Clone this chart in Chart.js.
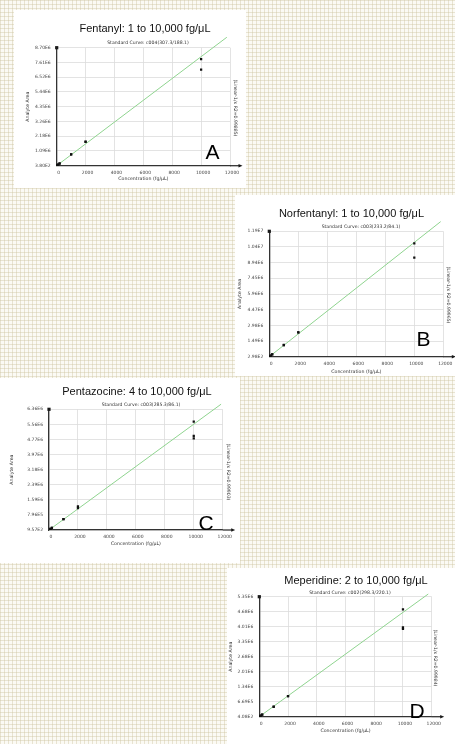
<!DOCTYPE html>
<html><head><meta charset="utf-8">
<script src="https://cdn.jsdelivr.net/npm/chart.js@4.4.1/dist/chart.umd.min.js"></script>
<style>
html,body{margin:0;padding:0;}
body{width:455px;height:744px;position:relative;overflow:hidden;
background-color:#fbfaf4;
background-image:linear-gradient(90deg, rgba(205,196,160,.42) 1px, transparent 1px),linear-gradient(rgba(205,196,160,.42) 1px, transparent 1px);
background-size:4px 4px;}
.panel{position:absolute;background:#fff;}
.panel canvas{position:absolute;left:0;top:0;}
.t{position:absolute;white-space:nowrap;transform:translate(-50%,-50%);color:#111;line-height:1;}
.title{font-family:"Liberation Sans",Arial,sans-serif;font-size:11px;}
.sub{font-family:"DejaVu Sans",sans-serif;font-size:4.6px;color:#333;}
.rt{font-family:"DejaVu Sans",sans-serif;font-size:4.6px;color:#333;transform:translate(-50%,-50%) rotate(90deg);}
.let{font-family:"Liberation Sans",Arial,sans-serif;font-size:21px;color:#000;}
</style></head>
<body>
<div class="panel" id="pA"><canvas id="cA"></canvas></div>
<div class="panel" id="pB"><canvas id="cB"></canvas></div>
<div class="panel" id="pC"><canvas id="cC"></canvas></div>
<div class="panel" id="pD"><canvas id="cD"></canvas></div>

<div class="t title" style="left:145px;top:28px">Fentanyl: 1 to 10,000 fg/μL</div>
<div class="t sub" style="left:148px;top:43px">Standard Curve: c004(307.3/188.1)</div>
<div class="t rt" style="left:235px;top:108px">(Linear-1/x R2=0.99885)</div>
<div class="t let" style="left:212.5px;top:151px">A</div>

<div class="t title" style="left:351.5px;top:213px">Norfentanyl: 1 to 10,000 fg/μL</div>
<div class="t sub" style="left:361px;top:226.7px">Standard Curve: c003(233.2/84.1)</div>
<div class="t rt" style="left:448px;top:295px">(Linear-1/x R2=0.99965)</div>
<div class="t let" style="left:423.5px;top:337.5px">B</div>

<div class="t title" style="left:137px;top:391px">Pentazocine: 4 to 10,000 fg/μL</div>
<div class="t sub" style="left:141px;top:405px">Standard Curve: c003(285.3/86.1)</div>
<div class="t rt" style="left:228px;top:472px">(Linear-1/x R2=0.99903)</div>
<div class="t let" style="left:206px;top:522px">C</div>

<div class="t title" style="left:356px;top:580px">Meperidine: 2 to 10,000 fg/μL</div>
<div class="t sub" style="left:350px;top:592.7px">Standard Curve: c002(298.3/220.1)</div>
<div class="t rt" style="left:435px;top:658px">(Linear-1/x R2=0.99984)</div>
<div class="t let" style="left:417px;top:709.5px">D</div>

<script>
// ---------- data ----------
const xTickLabels = ['0','2000','4000','6000','8000','10000','12000'];

const fentanylConc = [1,1,5,5,10,10,50,50,100,100,200,200,1000,1000,2000,2000,10000,10000];
const fentanylArea = [820,780,4100,3900,8200,7900,41000,39500,82000,79000,165000,160000,840000,835000,1770000,1760000,7860000,7090000];
const fentanylFitX = [0,11780];
const fentanylFitY = [0,9470000];
const fentanylYRange = [380,8700000];
const fentanylYTicks = ['3.80E2','1.09E6','2.18E6','3.26E6','4.35E6','5.44E6','6.52E6','7.61E6','8.70E6'];

const norfentanylConc = [1,1,5,5,10,10,50,50,100,100,200,200,1000,1000,2000,2000,10000,10000];
const norfentanylArea = [1100,1050,5400,5300,10800,10500,54000,53000,108000,106000,216000,212000,1110000,1100000,2310000,2300000,10760000,9400000];
const norfentanylFitX = [0,11820];
const norfentanylFitY = [0,12820000];
const norfentanylYRange = [298,11900000];
const norfentanylYTicks = ['2.98E2','1.49E6','2.98E6','4.47E6','5.96E6','7.45E6','8.94E6','1.04E7','1.19E7'];

const pentazocineConc = [4,4,10,10,50,50,100,100,200,200,1000,1000,2000,2000,10000,10000,10000];
const pentazocineArea = [2300,2200,5600,5500,28000,27500,56000,55000,112000,110000,580000,575000,1250000,1160000,5710000,4960000,4830000];
const pentazocineFitX = [0,11890];
const pentazocineFitY = [0,6630000];
const pentazocineYRange = [957,6360000];
const pentazocineYTicks = ['9.57E2','7.96E5','1.59E6','2.39E6','3.18E6','3.97E6','4.77E6','5.56E6','6.36E6'];

const meperidineConc = [2,2,10,10,50,50,100,100,200,200,1000,1000,2000,2000,10000,10000,10000];
const meperidineArea = [950,930,4700,4600,23500,23000,47000,46000,94000,92000,446000,440000,920000,915000,4780000,3980000,3920000];
const meperidineFitX = [0,11760];
const meperidineFitY = [0,5470000];
const meperidineYRange = [408,5350000];
const meperidineYTicks = ['4.08E2','6.69E5','1.34E6','2.01E6','2.68E6','3.35E6','4.01E6','4.68E6','5.35E6'];

// ---------- layout (absolute page coords) ----------
const layouts = {
  A:{P:{x:14,y:10,w:232,h:178}, area:{l:56.7,r:230,t:47.7,b:165.7}, yTitleX:28, xTitleY:179},
  B:{P:{x:235,y:195,w:220,h:181}, area:{l:269.3,r:443.3,t:231.3,b:356.7}, yTitleX:240, xTitleY:371.7},
  C:{P:{x:0,y:378,w:240,h:185}, area:{l:49,r:222.7,t:409.3,b:530}, yTitleX:11.7, xTitleY:544},
  D:{P:{x:227,y:568,w:228,h:176}, area:{l:259.3,r:431.7,t:596.7,b:716.7}, yTitleX:231, xTitleY:731}
};

const axisDecor = {
  id:'axisDecor',
  afterDraw(chart){
    const {ctx, chartArea:a} = chart;
    ctx.save();
    ctx.strokeStyle='#333'; ctx.fillStyle='#1a1a1a'; ctx.lineWidth=1.3;
    ctx.beginPath(); ctx.moveTo(a.right, a.bottom); ctx.lineTo(a.right+10, a.bottom); ctx.stroke();
    ctx.beginPath(); ctx.moveTo(a.right+12.5, a.bottom); ctx.lineTo(a.right+8.5, a.bottom-1.8); ctx.lineTo(a.right+8.5, a.bottom+1.8); ctx.closePath(); ctx.fill();
    ctx.fillRect(a.left-1.6, a.top-1.6, 3.2, 3.2);
    ctx.restore();
  }
};

const tickFont = {family:'"DejaVu Sans", sans-serif', size:4.5};
const titleFont = {family:'"DejaVu Sans", sans-serif', size:4.7};
const titleLH = 4.7*1.2;

function makeChart(key, conc, area, fitX, fitY, yRange, yLabels){
  const L = layouts[key], P = L.P, A = L.area;
  const panel = document.getElementById('p'+key);
  panel.style.left = P.x+'px'; panel.style.top = P.y+'px';
  panel.style.width = P.w+'px'; panel.style.height = P.h+'px';
  const cv = document.getElementById('c'+key);
  cv.width = P.w; cv.height = P.h;
  cv.style.width = P.w+'px'; cv.style.height = P.h+'px';
  const yW = A.l - P.x;
  const xH = P.y + P.h - A.b;
  const padTop = A.t - P.y;
  const padRight = P.x + P.w - A.r;
  const n = yLabels.length - 1;
  new Chart(cv, {
    type:'scatter',
    data:{datasets:[
      {data: fitX.map((x,i)=>({x:x, y:fitY[i]})), showLine:true, borderColor:'#8fd48f', borderWidth:1,
       pointRadius:0, clip:false, order:2},
      {data: conc.map((x,i)=>({x:x, y:area[i]})), pointStyle:'rect', pointRadius:1.6,
       backgroundColor:'#111', borderColor:'#111', borderWidth:0, order:1}
    ]},
    options:{
      responsive:false, animation:false, devicePixelRatio:1,
      layout:{padding:{left:0, top:padTop, right:padRight, bottom:0}},
      plugins:{legend:{display:false}, tooltip:{enabled:false}},
      scales:{
        x:{type:'linear', min:0, max:12000,
          ticks:{stepSize:2000, callback:(v,i)=>xTickLabels[i], padding:4.3, font:tickFont, color:'#444',
                 maxRotation:0, autoSkip:false, labelOffset:2},
          grid:{color:'#dcdcdc', lineWidth:0.8, drawTicks:false},
          border:{color:'#333', width:1.3},
          title:{display:true, text:'Concentration (fg/μL)', font:titleFont, color:'#333',
                 padding:{top:0, bottom:(P.y+P.h-L.xTitleY) - titleLH/2}},
          afterFit:s=>{s.height = xH;}
        },
        y:{type:'linear', min:yRange[0], max:yRange[1],
          afterBuildTicks:s=>{s.ticks = yLabels.map((_,i)=>({value: yRange[0] + i*(yRange[1]-yRange[0])/n}));},
          ticks:{callback:(v,i)=>yLabels[i], padding:6, font:tickFont, color:'#444', autoSkip:false},
          grid:{color:'#dcdcdc', lineWidth:0.8, drawTicks:false},
          border:{color:'#333', width:1.3},
          title:{display:true, text:'Analyte Area', font:titleFont, color:'#333',
                 padding:{top:(L.yTitleX - P.x) - titleLH/2, bottom:0}},
          afterFit:s=>{s.width = yW;}
        }
      }
    },
    plugins:[axisDecor]
  });
}

makeChart('A', fentanylConc, fentanylArea, fentanylFitX, fentanylFitY, fentanylYRange, fentanylYTicks);
makeChart('B', norfentanylConc, norfentanylArea, norfentanylFitX, norfentanylFitY, norfentanylYRange, norfentanylYTicks);
makeChart('C', pentazocineConc, pentazocineArea, pentazocineFitX, pentazocineFitY, pentazocineYRange, pentazocineYTicks);
makeChart('D', meperidineConc, meperidineArea, meperidineFitX, meperidineFitY, meperidineYRange, meperidineYTicks);
</script>
</body></html>
